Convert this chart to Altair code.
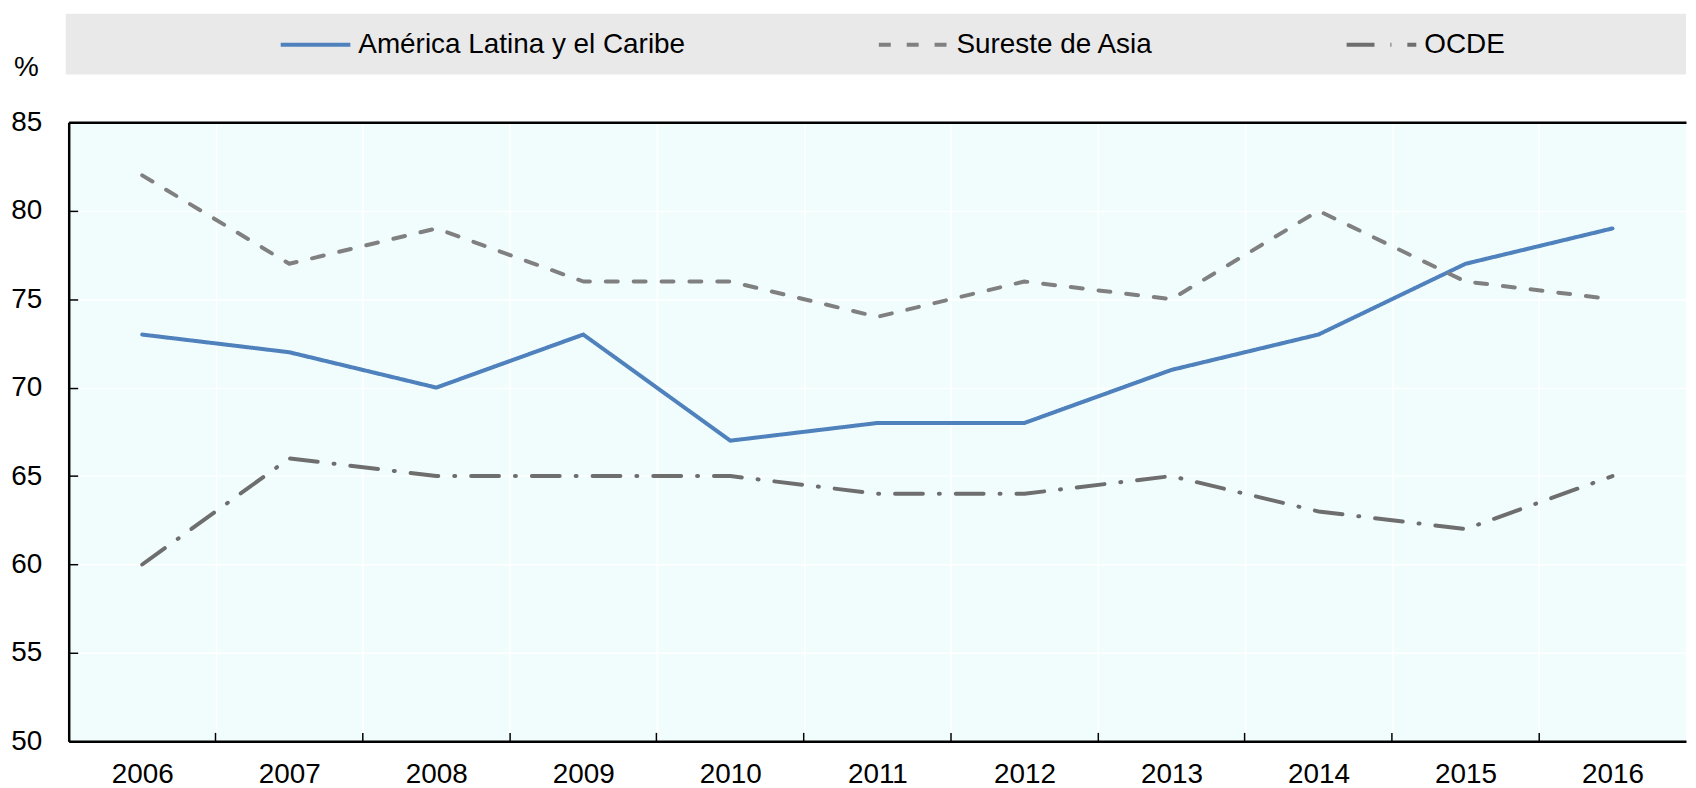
import altair as alt
import pandas as pd

years = ["2006", "2007", "2008", "2009", "2010", "2011", "2012", "2013", "2014", "2015", "2016"]
series = ["América Latina y el Caribe", "Sureste de Asia", "OCDE"]
latam = [73, 72, 70, 73, 67, 68, 68, 71, 73, 77, 79]
sea = [82, 77, 79, 76, 76, 74, 76, 75, 80, 76, 75]
ocde = [60, 66, 65, 65, 65, 64, 64, 65, 63, 62, 65]
y_ticks = [50, 55, 60, 65, 70, 75, 80, 85]

colors = ["#4F81BD", "#808080", "#6E6E6E"]
dashes = [[1, 0], [12, 16], [28, 16, 1, 16]]

rows = []
for name, vals in zip(series, [latam, sea, ocde]):
    for yr, v in zip(years, vals):
        rows.append({"year": yr, "series": name, "value": v})
df = pd.DataFrame(rows)

FONT = "Liberation Sans, Arial, sans-serif"
FS = 28
W, H = 1625, 622
BG = "#F1FDFD"

xscale = alt.Scale(type="band", domain=years, paddingInner=0, paddingOuter=0)
yscale = alt.Scale(domain=[50, 85], nice=False, zero=False)

legend = alt.Legend(
    title=None, orient="none", legendX=211, legendY=-115, direction="horizontal",
    symbolType="stroke", symbolSize=4900, symbolStrokeWidth=4,
    labelFontSize=FS, labelFont=FONT, labelColor="black", labelOffset=6,
    labelLimit=500, columnPadding=186, padding=0,
)

band = alt.Chart(pd.DataFrame({"k": [0]})).mark_rect(color="#E9E9E9").encode(
    x=alt.value(-3), x2=alt.value(W), y=alt.value(-109), y2=alt.value(-48)
)

lines = alt.Chart(df).mark_line(strokeWidth=4, strokeCap="round", strokeJoin="round").encode(
    x=alt.X("year:O", bandPosition=0.5, scale=xscale,
            axis=alt.Axis(orient="bottom", title=None, labelAngle=0, tickBand="extent",
                          ticks=False, tickSize=0, labelPadding=19,
                          labelFont=FONT, labelFontSize=FS, labelColor="black",
                          domainColor="black", domainWidth=2.5,
                          grid=True, gridColor="white", gridWidth=1.5)),
    y=alt.Y("value:Q", scale=yscale,
            axis=alt.Axis(orient="left", values=y_ticks, title="%", titleAngle=0,
                          titleX=-43, titleY=-47, titleAlign="center", titleBaseline="alphabetic",
                          titleFont=FONT, titleFontSize=FS, titleFontWeight="normal", titleColor="black",
                          ticks=False, tickSize=0, labelPadding=27,
                          labelFont=FONT, labelFontSize=FS, labelColor="black",
                          domainColor="black", domainWidth=2.5,
                          grid=True, gridColor="white", gridWidth=1.5)),
    color=alt.Color("series:N", scale=alt.Scale(domain=series, range=colors), legend=legend),
    strokeDash=alt.StrokeDash("series:N", scale=alt.Scale(domain=series, range=dashes), legend=legend),
)

ticks_layer = alt.Chart(df).mark_line(strokeOpacity=0).encode(
    x=alt.X("year:O", bandPosition=0.5, scale=xscale,
            axis=alt.Axis(orient="bottom", title=None, labels=False, domain=False, grid=False,
                          bandPosition=0, ticks=True, tickSize=9, tickWidth=1.5,
                          tickColor="black", offset=-9)),
    y=alt.Y("value:Q", scale=yscale,
            axis=alt.Axis(orient="left", title=None, values=y_ticks, labels=False, domain=False,
                          grid=False, ticks=True, tickSize=9, tickWidth=1.5,
                          tickColor="black", offset=-9)),
    detail="series:N",
)

top_layer = alt.Chart(df).mark_line(strokeOpacity=0).encode(
    x=alt.X("year:O", bandPosition=0.5, scale=xscale,
            axis=alt.Axis(orient="top", title=None, labels=False, ticks=False, grid=False,
                          domainColor="black", domainWidth=2.5)),
    y=alt.Y("value:Q", scale=yscale, axis=None),
    detail="series:N",
)

chart = alt.layer(band, top_layer, ticks_layer, lines).resolve_axis(
    x="independent", y="independent"
).properties(
    width=W, height=H,
    autosize=alt.AutoSizeParams(type="none"),
    padding={"left": 61, "top": 113, "right": 2, "bottom": 45},
    view=alt.ViewBackground(fill=BG, stroke=None),
).configure_view(
    stroke=None, fill=BG
).configure(
    font=FONT
)

chart.save("out.html", embed_options={"renderer": "svg", "actions": False})
